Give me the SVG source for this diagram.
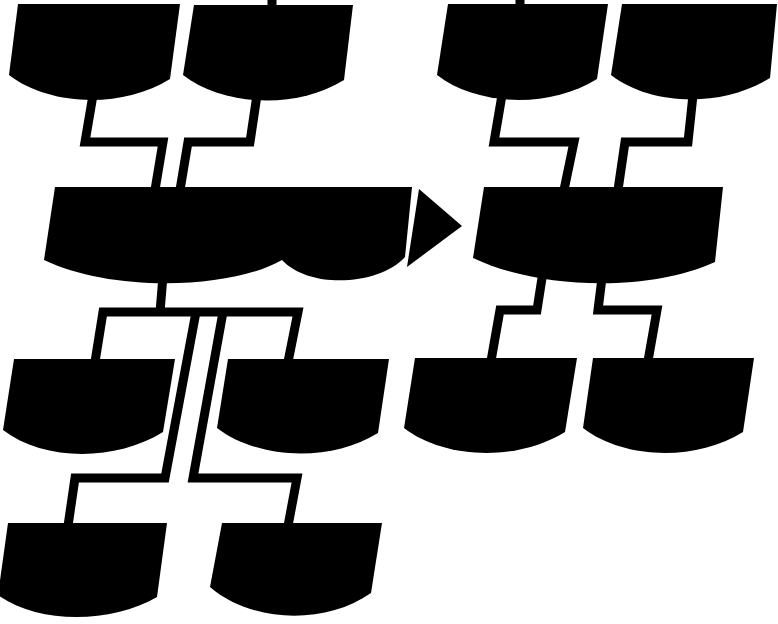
<svg xmlns="http://www.w3.org/2000/svg" width="778" height="624" viewBox="0 0 778 624">
<style>
.n{fill:#000;stroke:none}
.c{fill:none;stroke:#000;stroke-width:9;stroke-linejoin:miter;stroke-miterlimit:10}
</style>
<rect width="778" height="624" fill="#fff"/>
<g id="connectors">
<polyline class="c" points="272,0 272,8"/>
<polyline class="c" points="520,0 520,8"/>
<polyline class="c" points="93,95 85,142 163,142 155,190"/>
<polyline class="c" points="257,95 250,142 188,142 180,190"/>
<polyline class="c" points="502,95 494,142 574,142 564,190"/>
<polyline class="c" points="693,95 688,142 625,142 618,190"/>
<polyline class="c" points="163,276 160,312"/>
<polyline class="c" points="95,362 103,312 298,312 288,362"/>
<polyline class="c" points="196,312 165,478 75,478 68,526"/>
<polyline class="c" points="223,312 193,478 297,478 288,526"/>
<polyline class="c" points="542,278 537,310 500,310 491,361"/>
<polyline class="c" points="602,278 598,310 657,310 648,361"/>
</g>
<g id="arrow"><polygon class="n" points="419,189 462,226 407,267"/></g>
<g id="nodeA"><path class="n" d="M18,4 L180,4 L170,79 C122,109 49,106 9,75 Z"/></g>
<g id="nodeB"><path class="n" d="M194,5 L353,5 L344,80 C296,110 223,106 183,75 Z"/></g>
<g id="nodeC"><path class="n" d="M55,187 L412,187 L405,257 C380,285 310,290 282,260 C230,290 110,292 44,260 Z"/></g>
<g id="nodeD"><path class="n" d="M448,4 L608,4 L597,79 C549,109 477,106 437,75 Z"/></g>
<g id="nodeE"><path class="n" d="M622,4 L777,4 L770,78 C722,108 651,106 611,75 Z"/></g>
<g id="nodeF"><path class="n" d="M484,187 L723,187 L715,262 C650,292 540,290 473,258 Z"/></g>
<g id="nodeG"><path class="n" d="M415,358 L577,358 L565,432 C517,462 444,459 404,428 Z"/></g>
<g id="nodeH"><path class="n" d="M593,358 L754,358 L743,432 C695,462 623,459 583,428 Z"/></g>
<g id="nodeI"><path class="n" d="M14,359 L175,359 L163,432 C115,462 43,461 3,430 Z"/></g>
<g id="nodeJ"><path class="n" d="M228,359 L389,359 L378,433 C330,463 257,459 217,428 Z"/></g>
<g id="nodeK"><path class="n" d="M8,523 L167,523 L157,597 C110,624 38,624 -2,595 Z"/></g>
<g id="nodeL"><path class="n" d="M222,523 L382,523 L371,593 C324,626 250,622 210,587 Z"/></g>
</svg>
